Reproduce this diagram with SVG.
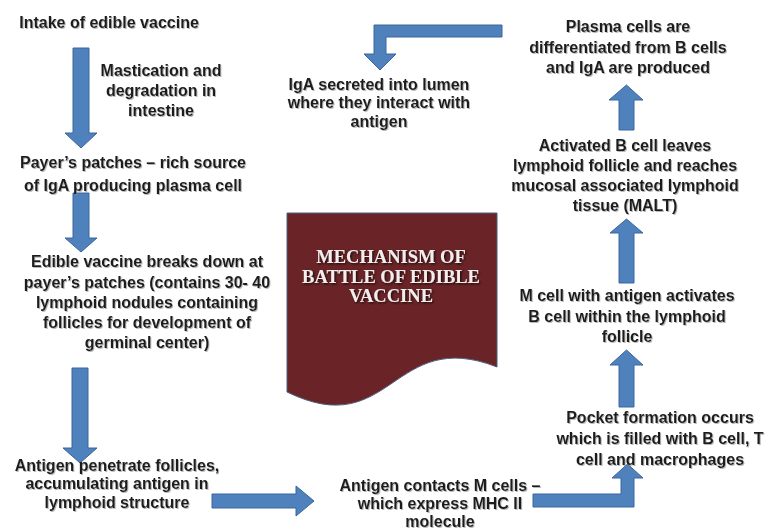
<svg xmlns="http://www.w3.org/2000/svg" width="772" height="531" viewBox="0 0 772 531">
  <defs>
    <filter id="ts" x="-5%" y="-20%" width="110%" height="150%">
      <feDropShadow dx="1" dy="1" stdDeviation="0.6" flood-color="#888" flood-opacity="0.6"/>
    </filter>
    <filter id="ts2" x="-5%" y="-20%" width="110%" height="150%">
      <feDropShadow dx="1.2" dy="1.2" stdDeviation="0.8" flood-color="#000" flood-opacity="0.8"/>
    </filter>
  </defs>
  <style>
    .t { font-family: "Liberation Sans", Arial, sans-serif; font-weight: bold; font-size: 16px; fill: #1c1c1c; text-anchor: middle; filter: url(#ts); }
    .title { font-family: "Liberation Serif", "Times New Roman", serif; font-weight: bold; font-size: 18.5px; fill: #f3eeee; text-anchor: middle; filter: url(#ts2); }
    .arrow { fill: #4f81bd; stroke: #3b679c; stroke-width: 1; }
  </style>
  <rect width="772" height="531" fill="#ffffff"/>

  <g id="connectors">
    <polygon class="arrow" points="73,48 89,48 89,133 97,133 81,148 65,133 73,133"/>
    <polygon class="arrow" points="73,193 89,193 89,238 97,238 81,252 65,238 73,238"/>
    <polygon class="arrow" points="72,368 88,368 88,448 97,448 80,463 63,448 72,448"/>
    <polygon class="arrow" points="212,494 296,494 296,486 314,501 296,516 296,508 212,508"/>
    <polygon class="arrow" points="533,494 621,494 621,478 612,478 627.5,464 643,478 634,478 634,507 533,507"/>
    <polygon class="arrow" points="619,407 619,365 610,365 626.5,350 643,365 634,365 634,407"/>
    <polygon class="arrow" points="619,283 619,233 610,233 626.5,219 643,233 634,233 634,283"/>
    <polygon class="arrow" points="619,130 619,100 609,100 626.5,85 643,100 634,100 634,130"/>
    <polygon class="arrow" points="502,25 374,25 374,54 364,54 380,70 396,54 386,54 386,37 502,37"/>
  </g>

  <g id="intake">
    <text class="t" x="109" y="28">Intake of edible vaccine</text>
  </g>
  <g id="mastication">
    <text class="t" x="161" y="76">Mastication and</text>
    <text class="t" x="161" y="96">degradation in</text>
    <text class="t" x="161" y="116">intestine</text>
  </g>
  <g id="payers">
    <text class="t" x="133" y="168">Payer’s patches – rich source</text>
    <text class="t" x="133" y="191">of IgA producing plasma cell</text>
  </g>
  <g id="breakdown">
    <text class="t" x="147" y="267">Edible vaccine breaks down at</text>
    <text class="t" x="147" y="288">payer’s patches (contains 30- 40</text>
    <text class="t" x="147" y="308">lymphoid nodules containing</text>
    <text class="t" x="147" y="328">follicles for development of</text>
    <text class="t" x="147" y="348">germinal center)</text>
  </g>
  <g id="penetrate">
    <text class="t" x="117" y="471">Antigen penetrate follicles,</text>
    <text class="t" x="117" y="489">accumulating antigen in</text>
    <text class="t" x="117" y="508">lymphoid structure</text>
  </g>
  <g id="mcells">
    <text class="t" x="440" y="491">Antigen contacts M cells –</text>
    <text class="t" x="440" y="509">which express MHC II</text>
    <text class="t" x="440" y="527">molecule</text>
  </g>
  <g id="pocket">
    <text class="t" x="660" y="423">Pocket formation occurs</text>
    <text class="t" x="660" y="444">which is filled with B cell, T</text>
    <text class="t" x="660" y="465">cell and macrophages</text>
  </g>
  <g id="activates">
    <text class="t" x="627" y="301">M cell with antigen activates</text>
    <text class="t" x="627" y="322">B cell within the lymphoid</text>
    <text class="t" x="627" y="342">follicle</text>
  </g>
  <g id="malt">
    <text class="t" x="625" y="151">Activated B cell leaves</text>
    <text class="t" x="625" y="171">lymphoid follicle and reaches</text>
    <text class="t" x="625" y="191">mucosal associated lymphoid</text>
    <text class="t" x="625" y="211">tissue (MALT)</text>
  </g>
  <g id="plasma">
    <text class="t" x="628" y="32">Plasma cells are</text>
    <text class="t" x="628" y="53">differentiated from B cells</text>
    <text class="t" x="628" y="73">and IgA are produced</text>
  </g>
  <g id="iga">
    <text class="t" x="379" y="90">IgA secreted into lumen</text>
    <text class="t" x="379" y="108">where they interact with</text>
    <text class="t" x="379" y="127">antigen</text>
  </g>
  <g id="title">
    <path d="M287,213 H497 V367 C392,326 392,443 287,392 Z" fill="#6a2427" stroke="#4d5f80" stroke-width="1"/>
    <text class="title" x="391" y="263">MECHANISM OF</text>
    <text class="title" x="391" y="283">BATTLE OF EDIBLE</text>
    <text class="title" x="391" y="302">VACCINE</text>
  </g>
</svg>
